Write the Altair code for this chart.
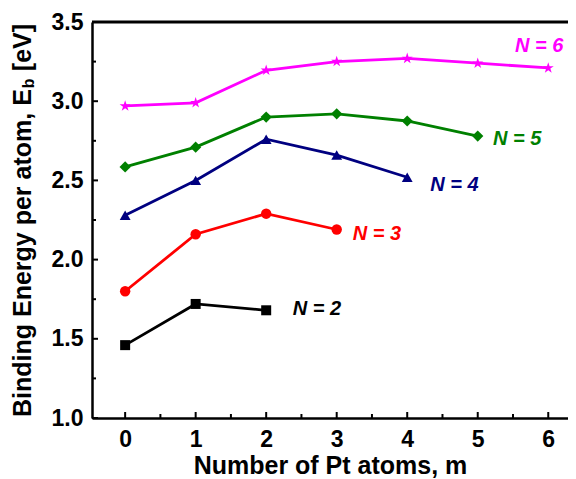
import altair as alt
import pandas as pd

# ---- data ----
series = ["N = 2", "N = 3", "N = 4", "N = 5", "N = 6"]
eb_n2 = [1.46, 1.72, 1.68]
eb_n3 = [1.80, 2.16, 2.29, 2.19]
eb_n4 = [2.28, 2.50, 2.76, 2.66, 2.52]
eb_n5 = [2.585, 2.71, 2.90, 2.92, 2.875, 2.78]
eb_n6 = [2.97, 2.99, 3.195, 3.25, 3.27, 3.24, 3.21]
label_m = [2.72, 3.57, 4.67, 5.56, 5.87]
label_e = [1.69, 2.16, 2.474, 2.76, 3.35]
x_ticks = [0, 1, 2, 3, 4, 5, 6]
x_minor = [0.5, 1.5, 2.5, 3.5, 4.5, 5.5]
y_ticks = [1.0, 1.5, 2.0, 2.5, 3.0, 3.5]
y_minor = [1.25, 1.75, 2.25, 2.75, 3.25]
ytitle_parts = ["Binding Energy per atom, E", "b", "[eV]"]

colors = ["#000000", "#ff0000", "#000080", "#008000", "#ff00ff"]
star = ("M0,-1 L0.2245,-0.309 L0.951,-0.309 L0.363,0.118 L0.588,0.809 "
        "L0,0.382 L-0.588,0.809 L-0.363,0.118 L-0.951,-0.309 L-0.2245,-0.309 Z")
shapes = ["square", "circle", "triangle-up", "diamond", star]
sizes = [100, 135, 125, 150, 240]

rows = []
for name, vals in zip(series, [eb_n2, eb_n3, eb_n4, eb_n5, eb_n6]):
    for m, v in enumerate(vals):
        rows.append({"series": name, "m": m, "E": v})
df = pd.DataFrame(rows)
labels = pd.DataFrame({"series": series, "m": label_m, "E": label_e})

W, H = 476, 396
FONT = "Liberation Sans"

xscale = alt.Scale(domain=[-0.47, 6.28], nice=False, zero=False)
yscale = alt.Scale(domain=[1.0, 3.5], nice=False, zero=False)
cscale = alt.Scale(domain=series, range=colors)

base = alt.Chart(df)
lines = base.mark_line(strokeWidth=2.8).encode(
    x=alt.X("m:Q", scale=xscale,
            axis=alt.Axis(values=x_ticks, format="d", title="Number of Pt atoms, m",
                          labelPadding=10, titlePadding=2)),
    y=alt.Y("E:Q", scale=yscale,
            axis=alt.Axis(values=y_ticks, format=".1f", title=None, labelPadding=9)),
    color=alt.Color("series:N", scale=cscale, legend=None),
    detail="series:N",
)
points = base.mark_point(filled=True, opacity=1).encode(
    x=alt.X("m:Q", scale=xscale),
    y=alt.Y("E:Q", scale=yscale),
    color=alt.Color("series:N", scale=cscale, legend=None),
    shape=alt.Shape("series:N", scale=alt.Scale(domain=series, range=shapes), legend=None),
    size=alt.Size("series:N", scale=alt.Scale(domain=series, range=sizes), legend=None),
)
text = alt.Chart(labels).mark_text(
    font=FONT, fontSize=20, fontWeight="bold", fontStyle="italic", align="center", baseline="middle"
).encode(
    x=alt.X("m:Q", scale=xscale),
    y=alt.Y("E:Q", scale=yscale),
    text="series:N",
    color=alt.Color("series:N", scale=cscale, legend=None),
)

# inward tick marks
def yt(vals, ln):
    return alt.Chart(pd.DataFrame({"v": vals})).mark_rule(color="black", strokeWidth=2).encode(
        y=alt.Y("v:Q", scale=yscale), x=alt.value(0), x2=alt.value(ln))

def xt(vals, ln):
    return alt.Chart(pd.DataFrame({"v": vals})).mark_rule(color="black", strokeWidth=2).encode(
        x=alt.X("v:Q", scale=xscale), y=alt.value(H), y2=alt.value(H - ln))

top_border = alt.Chart(pd.DataFrame({"v": [0]})).mark_rule(color="black", strokeWidth=3).encode(
    x=alt.value(0), x2=alt.value(W), y=alt.value(0))

# y-axis title with subscript
TX = -69
FS = 25
y0 = 395
main_len = 13.114 * FS
tdf = pd.DataFrame({"t": ytitle_parts})
yt1 = alt.Chart(tdf.iloc[[0]]).mark_text(
    font=FONT, fontSize=FS, fontWeight="bold", angle=270, align="left", baseline="middle"
).encode(x=alt.value(TX), y=alt.value(y0), text="t:N")
yt2 = alt.Chart(tdf.iloc[[1]]).mark_text(
    font=FONT, fontSize=16, fontWeight="bold", angle=270, align="left", baseline="middle"
).encode(x=alt.value(TX + 6), y=alt.value(y0 - main_len - 1), text="t:N")
yt3 = alt.Chart(tdf.iloc[[2]]).mark_text(
    font=FONT, fontSize=FS, fontWeight="bold", angle=270, align="left", baseline="middle"
).encode(x=alt.value(TX), y=alt.value(y0 - main_len - 18), text="t:N")

chart = alt.layer(
    lines, points, text,
    yt(y_ticks, 6), yt(y_minor, 4), xt(x_ticks, 6), xt(x_minor, 4),
    top_border, yt1, yt2, yt3,
).properties(
    width=W, height=H,
    autosize=alt.AutoSizeParams(type="none"),
    padding={"left": 84, "top": 14, "right": 0, "bottom": 61},
).configure_view(stroke=None).configure_axis(
    grid=False, ticks=False, domainColor="black", domainWidth=2.5,
    labelFont=FONT, labelFontSize=23, labelFontWeight="bold", labelColor="black",
    titleFont=FONT, titleFontSize=25, titleFontWeight="bold", titleColor="black",
)

chart.save("out.html", embed_options={"renderer": "svg", "actions": False})
